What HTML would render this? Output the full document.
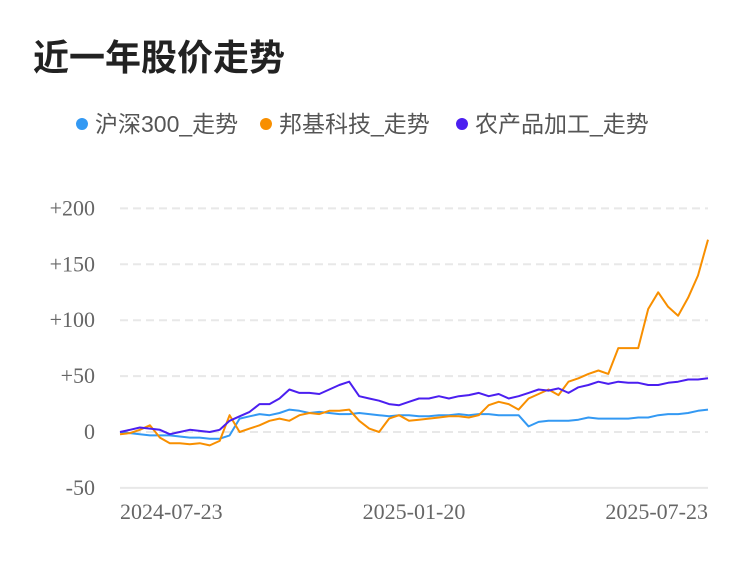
<!DOCTYPE html>
<html><head><meta charset="utf-8"><style>
body{margin:0;background:#fff;width:750px;height:558px;overflow:hidden;font-family:"Liberation Sans","Noto Sans CJK SC",sans-serif}
</style></head><body>
<svg width="750" height="558">
<text x="33" y="70" font-size="36" font-weight="bold" fill="#222" font-family="Liberation Sans, Noto Sans CJK SC, sans-serif">近一年股价走势</text>
<g font-size="23" fill="#555" font-family="Liberation Sans, Noto Sans CJK SC, sans-serif">
<g><circle cx="82" cy="124" r="6" fill="#3399f3"/><text x="95" y="132">沪深300_走势</text></g>
<g><circle cx="266" cy="124" r="6" fill="#f88f00"/><text x="279" y="132">邦基科技_走势</text></g>
<g><circle cx="462" cy="124" r="6" fill="#4b1ff0"/><text x="475" y="132">农产品加工_走势</text></g>
</g>
<g id="grid"></g><g id="lines"></g><g id="labels" font-family="Liberation Serif, serif" font-size="22" fill="#666"></g>
</svg>
<script>
const yTicks=[200,150,100,50,0,-50];
const yTickLabels=["+200","+150","+100","+50","0","-50"];
const xTickLabels=["2024-07-23","2025-01-20","2025-07-23"];
const hs300=[0,-1,-2,-3,-3,-3,-4,-5,-5,-6,-6,-3,12,14,16,15,17,20,19,17,18,17,16,16,17,16,15,14,15,15,14,14,15,15,16,15,16,16,15,15,15,5,9,10,10,10,11,13,12,12,12,12,13,13,15,16,16,17,19,20];
const bangji=[-2,-1,2,6,-5,-10,-10,-11,-10,-12,-8,15,0,3,6,10,12,10,15,17,16,19,19,20,10,3,0,12,15,10,11,12,13,14,14,13,15,24,27,25,20,30,34,38,33,45,48,52,55,52,75,75,75,110,125,112,104,120,140,172];
const nongchan=[0,2,4,3,2,-2,0,2,1,0,2,10,14,18,25,25,30,38,35,35,34,38,42,45,32,30,28,25,24,27,30,30,32,30,32,33,35,32,34,30,32,35,38,37,39,35,40,42,45,43,45,44,44,42,42,44,45,47,47,48];
const NS="http://www.w3.org/2000/svg";
const X0=120,X1=708,Y=v=>432-v*1.118;
const X=i=>X0+i*(X1-X0)/(hs300.length-1);
const grid=document.getElementById('grid'),lab=document.getElementById('labels'),lines=document.getElementById('lines');
yTicks.forEach((t,k)=>{
 const l=document.createElementNS(NS,'line');
 l.setAttribute('x1',X0);l.setAttribute('x2',X1);l.setAttribute('y1',Y(t));l.setAttribute('y2',Y(t));
 l.setAttribute('stroke','#e8e8e8');l.setAttribute('stroke-width','2');l.setAttribute('stroke-dasharray',t===-50?'':'8,5');
 
 
 grid.appendChild(l);
 const tx=document.createElementNS(NS,'text');
 tx.setAttribute('x',95);tx.setAttribute('y',Y(t)+7);tx.setAttribute('text-anchor','end');tx.textContent=yTickLabels[k];
 
 
 lab.appendChild(tx);
});
xTickLabels.forEach((s,k)=>{
 const tx=document.createElementNS(NS,'text');
 const x=X0+k*(X1-X0)/2;
 tx.setAttribute('x',k===0?X0:(k===2?X1:x));tx.setAttribute('y',519);
 tx.setAttribute('text-anchor',k===0?'start':(k===2?'end':'middle'));tx.textContent=s;
 
 
 lab.appendChild(tx);
});
[[hs300,'#3399f3','line-hs300'],[bangji,'#f88f00','line-bangji'],[nongchan,'#4b1ff0','line-nongchanpin']].forEach(([d,c,n])=>{
 const p=document.createElementNS(NS,'polyline');
 p.setAttribute('points',d.map((v,i)=>X(i).toFixed(1)+','+Y(v).toFixed(1)).join(' '));
 p.setAttribute('fill','none');p.setAttribute('stroke',c);p.setAttribute('stroke-width','2');p.setAttribute('stroke-linejoin','round');
 
 
 lines.appendChild(p);
});
</script>
</body></html>
